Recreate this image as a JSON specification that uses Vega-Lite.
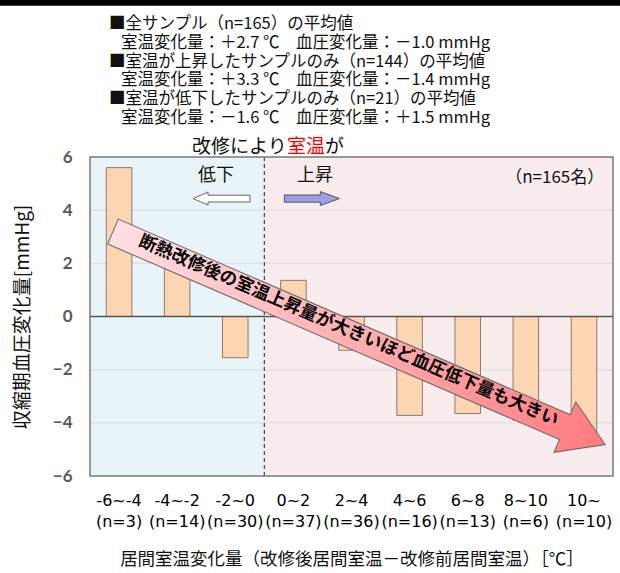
{
  "$schema": "https://vega.github.io/schema/vega-lite/v6.json",
  "autosize": {"type": "none"},
  "padding": {"left": 90, "top": 157, "right": 7, "bottom": 97},
  "width": 523,
  "height": 319,
  "background": "white",
  "config": {"view": {"stroke": null}},
  "data": {"values": [{}]},
  "title": {
    "text": [
      "■全サンプル（n=165）の平均値",
      "\u200b\u2002\u00a0室温変化量：＋2.7 ℃　血圧変化量：－1.0 mmHg",
      "■室温が上昇したサンプルのみ（n=144）の平均値",
      "\u200b\u2002\u00a0室温変化量：＋3.3 ℃　血圧変化量：－1.4 mmHg",
      "■室温が低下したサンプルのみ（n=21）の平均値",
      "\u200b\u2002\u00a0室温変化量：－1.6 ℃　血圧変化量：＋1.5 mmHg"
    ],
    "anchor": "start",
    "frame": "group",
    "dx": 19,
    "dy": 127,
    "offset": 0,
    "font": "Noto Sans CJK JP",
    "fontSize": 16.5,
    "fontWeight": "normal",
    "color": "#111111",
    "lineHeight": 18.7
  },
  "layer": [
    {
      "layer": [
        {
          "mark": {"type": "rect", "color": "#e8f4f7"},
          "encoding": {
            "x": {"datum": 0, "type": "quantitative", "scale": {"domain": [0, 9], "nice": false, "zero": false}, "axis": null},
            "x2": {"datum": 3},
            "y": {"datum": -6, "type": "quantitative", "scale": {"domain": [-6, 6], "nice": false}},
            "y2": {"datum": 6}
          }
        },
        {
          "mark": {"type": "rect", "color": "#f8ecec"},
          "encoding": {
            "x": {"datum": 3, "type": "quantitative"},
            "x2": {"datum": 9},
            "y": {"datum": -6, "type": "quantitative"},
            "y2": {"datum": 6}
          }
        },
        {
          "data": {"values": [{"g": -4}, {"g": -2}, {"g": 2}, {"g": 4}]},
          "mark": {"type": "rule", "color": "#e2e2e2", "strokeWidth": 1.5},
          "encoding": {
            "y": {"field": "g", "type": "quantitative"}
          }
        },
        {
          "mark": {"type": "rule", "color": "#444444", "strokeWidth": 1.2, "strokeDash": [4, 3]},
          "encoding": {
            "x": {"datum": 3, "type": "quantitative"}
          }
        },
        {
          "mark": {"type": "rect", "color": "#000000"},
          "encoding": {
            "x": {"datum": -1.549, "type": "quantitative"},
            "x2": {"datum": 9.12},
            "y": {"datum": 11.69, "type": "quantitative"},
            "y2": {"datum": 11.93}
          }
        }
      ]
    },
    {
      "data": {
        "values": [
          {"label": "-6~-4 (n=3)", "value": 5.6},
          {"label": "-4~-2 (n=14)", "value": 2.0},
          {"label": "-2~0 (n=30)", "value": -1.55},
          {"label": "0~2 (n=37)", "value": 1.36},
          {"label": "2~4 (n=36)", "value": -1.27},
          {"label": "4~6 (n=16)", "value": -3.72},
          {"label": "6~8 (n=13)", "value": -3.65},
          {"label": "8~10 (n=6)", "value": -3.9},
          {"label": "10~ (n=10)", "value": -4.6}
        ]
      },
      "mark": {"type": "bar", "fill": "#fcd5b2", "stroke": "#8c7b70", "strokeWidth": 1},
      "encoding": {
        "x": {
          "field": "label", "type": "nominal", "sort": null,
          "scale": {"type": "band", "paddingInner": 0.56, "paddingOuter": 0.28},
          "axis": {
            "orient": "bottom",
            "labelExpr": "split(datum.label, ' ')",
            "labelAngle": 0,
            "labelFont": "DejaVu Sans",
            "labelFontSize": 16,
            "labelColor": "#000000",
            "labelLineHeight": 21,
            "labelPadding": 16,
            "ticks": false,
            "domain": false,
            "title": "居間室温変化量（改修後居間室温－改修前居間室温）［℃］",
            "titleFont": "Noto Sans CJK JP",
            "titleFontSize": 17.5,
            "titleFontWeight": "normal",
            "titleColor": "#111111",
            "titlePadding": 21
          }
        },
        "y": {
          "field": "value", "type": "quantitative",
          "scale": {"domain": [-6, 6], "nice": false},
          "axis": {
            "values": [-6, -4, -2, 0, 2, 4, 6],
            "grid": false,
            "ticks": false,
            "domain": false,
            "labelFont": "Lato",
            "labelFontWeight": "bold",
            "labelFontSize": 17,
            "labelColor": "#595959",
            "labelPadding": 18,
            "title": "収縮期血圧変化量[mmHg]",
            "titleFont": "Noto Sans CJK JP",
            "titleFontSize": 19,
            "titleFontWeight": "normal",
            "titleColor": "#111111",
            "titlePadding": 20
          }
        }
      }
    },
    {
      "layer": [
        {
          "mark": {"type": "rule", "color": "#555555", "strokeWidth": 1.5},
          "encoding": {
            "y": {"datum": 0, "type": "quantitative", "scale": {"domain": [-6, 6], "nice": false}}
          }
        },
        {
          "mark": {
            "type": "point",
            "shape": "M-268,-13.5L224.5,-13.5L224.5,-27.4L268.3,0L224.5,27.4L224.5,13.5L-268,13.5Z",
            "size": 4,
            "filled": true,
            "opacity": 1,
            "angle": 23.4,
            "fill": {
              "gradient": "linear", "x1": 0, "y1": 0, "x2": 1, "y2": 0,
              "stops": [{"offset": 0, "color": "#ffdfe3"}, {"offset": 1, "color": "#ff7b7f"}]
            },
            "stroke": "#666666",
            "strokeWidth": 1
          },
          "encoding": {
            "x": {"datum": 4.627, "type": "quantitative", "scale": {"domain": [0, 9], "nice": false, "zero": false}, "axis": null},
            "y": {"datum": -0.808, "type": "quantitative"}
          }
        },
        {
          "mark": {"type": "text", "text": "断熱改修後の室温上昇量が大きいほど血圧低下量も大きい", "angle": 23.4, "font": "Noto Sans CJK JP", "fontWeight": "bold", "fontSize": 17.5, "color": "#000000", "align": "center", "baseline": "middle"},
          "encoding": {
            "x": {"datum": 4.449, "type": "quantitative"},
            "y": {"datum": -0.545, "type": "quantitative"}
          }
        },
        {
          "mark": {"type": "point", "shape": "M-28.5,0L-13.5,-6.5L-13.5,-3.4L28.5,-3.4L28.5,3.4L-13.5,3.4L-13.5,6.5Z", "size": 4, "filled": true, "opacity": 1, "fill": "#ffffff", "stroke": "#666666", "strokeWidth": 1},
          "encoding": {
            "x": {"datum": 2.263, "type": "quantitative"},
            "y": {"datum": 4.436, "type": "quantitative"}
          }
        },
        {
          "mark": {"type": "point", "shape": "M-27.5,-3.6L8.5,-3.6L8.5,-7L27.5,0L8.5,7L8.5,3.6L-27.5,3.6Z", "size": 4, "filled": true, "opacity": 1, "fill": "#9e9ee6", "stroke": "#555555", "strokeWidth": 1},
          "encoding": {
            "x": {"datum": 3.818, "type": "quantitative"},
            "y": {"datum": 4.436, "type": "quantitative"}
          }
        },
        {
          "mark": {"type": "text", "text": "低下", "font": "Noto Sans CJK JP", "fontSize": 18, "color": "#111111", "align": "center", "baseline": "middle"},
          "encoding": {
            "x": {"datum": 2.169, "type": "quantitative"},
            "y": {"datum": 5.28, "type": "quantitative"}
          }
        },
        {
          "mark": {"type": "text", "text": "上昇", "font": "Noto Sans CJK JP", "fontSize": 18, "color": "#111111", "align": "center", "baseline": "middle"},
          "encoding": {
            "x": {"datum": 3.873, "type": "quantitative"},
            "y": {"datum": 5.28, "type": "quantitative"}
          }
        },
        {
          "mark": {"type": "text", "text": "（n=165名）", "font": "Noto Sans CJK JP", "fontSize": 17, "color": "#111111", "align": "right", "baseline": "middle"},
          "encoding": {
            "x": {"datum": 8.85, "type": "quantitative"},
            "y": {"datum": 5.21, "type": "quantitative"}
          }
        },
        {
          "mark": {"type": "text", "text": "改修により", "font": "Noto Sans CJK JP", "fontSize": 19, "color": "#111111", "align": "left", "baseline": "middle"},
          "encoding": {
            "x": {"datum": 1.756, "type": "quantitative"},
            "y": {"datum": 6.39, "type": "quantitative"}
          }
        },
        {
          "mark": {"type": "text", "text": "室温", "font": "Noto Sans CJK JP", "fontSize": 19, "color": "#ff0000", "align": "left", "baseline": "middle"},
          "encoding": {
            "x": {"datum": 3.39, "type": "quantitative"},
            "y": {"datum": 6.39, "type": "quantitative"}
          }
        },
        {
          "mark": {"type": "text", "text": "が", "font": "Noto Sans CJK JP", "fontSize": 19, "color": "#111111", "align": "left", "baseline": "middle"},
          "encoding": {
            "x": {"datum": 4.045, "type": "quantitative"},
            "y": {"datum": 6.39, "type": "quantitative"}
          }
        },
        {
          "mark": {"type": "rect", "fill": null, "fillOpacity": 0, "stroke": "#7a7a7a", "strokeWidth": 1.5},
          "encoding": {
            "x": {"datum": 0, "type": "quantitative"},
            "x2": {"datum": 9},
            "y": {"datum": -6, "type": "quantitative"},
            "y2": {"datum": 6}
          }
        }
      ]
    }
  ],
  "resolve": {"scale": {"x": "independent"}}
}
